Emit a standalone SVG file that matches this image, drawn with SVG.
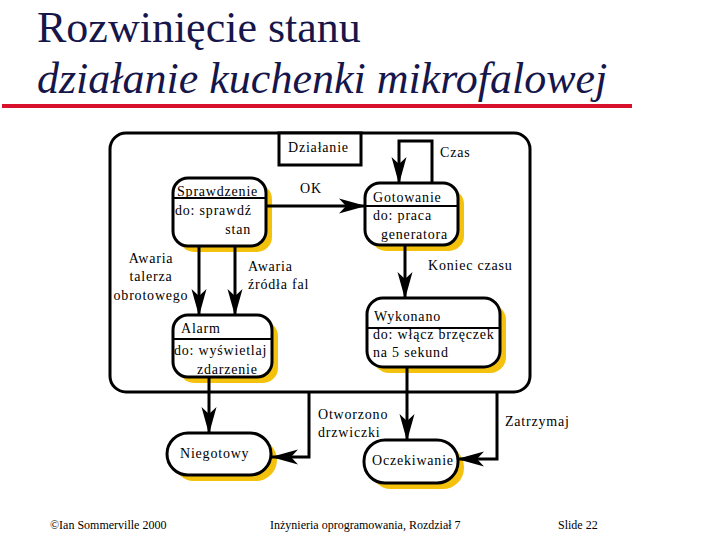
<svg xmlns="http://www.w3.org/2000/svg" width="720" height="540" viewBox="0 0 720 540">
<style>
.t{font-size:14px;fill:#000;letter-spacing:0.8px}
.f{font-size:12px;fill:#000}
.n{fill:#fff;stroke:#000;stroke-width:3}
.sh{fill:#f4c20d}
.c{fill:none;stroke:#000;stroke-width:3}
.d{stroke:#000;stroke-width:2}
</style>
<defs>
<marker id="ah" markerUnits="userSpaceOnUse" viewBox="0 0 28 16" markerWidth="28" markerHeight="16" refX="26" refY="7.5" orient="auto" overflow="visible">
<path d="M0,0 L27,7.5 L0,15 L7,7.5 z" fill="#000"/>
</marker>
</defs>
<rect width="720" height="540" fill="#fff"/>
<text x="37" y="42" font-family="Liberation Serif, serif" font-size="44" fill="#16164a">Rozwinięcie stanu</text>
<text x="37" y="93" font-family="Liberation Serif, serif" font-size="44" font-style="italic" fill="#16164a">działanie kuchenki mikrofalowej</text>
<rect x="2" y="104" width="630" height="4" fill="#d8102c"/>
<g id="Dzialanie">
<rect x="110" y="133" width="420" height="259" rx="16" fill="#fff" stroke="#000" stroke-width="3"/>
<rect x="279" y="133" width="82" height="32" fill="#fff" stroke="#000" stroke-width="3"/>
<text class="t" font-family="Liberation Serif, serif" x="288" y="152">Działanie</text>
</g>
<g id="Sprawdzenie">
<rect class="sh" x="179" y="184" width="93" height="68" rx="15"/>
<rect class="n" x="173" y="178" width="93" height="68" rx="15"/>
<line class="d" x1="173" y1="198" x2="266" y2="198"/>
<text class="t" font-family="Liberation Serif, serif" x="177" y="196">Sprawdzenie</text>
<text class="t" font-family="Liberation Serif, serif" x="175" y="215">do: sprawdź</text>
<text class="t" font-family="Liberation Serif, serif" x="251" y="234" text-anchor="end">stan</text>
</g>
<g id="Gotowanie">
<rect class="sh" x="371" y="189" width="93" height="62" rx="15"/>
<rect class="n" x="365" y="183" width="93" height="62" rx="15"/>
<line class="d" x1="365" y1="206" x2="458" y2="206"/>
<text class="t" font-family="Liberation Serif, serif" x="373" y="202">Gotowanie</text>
<text class="t" font-family="Liberation Serif, serif" x="373" y="220">do: praca</text>
<text class="t" font-family="Liberation Serif, serif" x="381" y="239">generatora</text>
</g>
<g id="Alarm">
<rect class="sh" x="179" y="321" width="99" height="62" rx="15"/>
<rect class="n" x="173" y="315" width="99" height="62" rx="15"/>
<line class="d" x1="173" y1="339" x2="272" y2="339"/>
<text class="t" font-family="Liberation Serif, serif" x="181" y="333">Alarm</text>
<text class="t" font-family="Liberation Serif, serif" x="174" y="355">do: wyświetlaj</text>
<text class="t" font-family="Liberation Serif, serif" x="197" y="374">zdarzenie</text>
</g>
<g id="Wykonano">
<rect class="sh" x="373" y="304" width="133" height="69" rx="16"/>
<rect class="n" x="367" y="298" width="133" height="69" rx="16"/>
<line class="d" x1="367" y1="328" x2="500" y2="328"/>
<text class="t" font-family="Liberation Serif, serif" x="374" y="321">Wykonano</text>
<text class="t" font-family="Liberation Serif, serif" x="373" y="339">do: włącz brzęczek</text>
<text class="t" font-family="Liberation Serif, serif" x="373" y="357">na 5 sekund</text>
</g>
<g id="Niegotowy">
<rect class="sh" x="173" y="439" width="104" height="42" rx="21"/>
<rect class="n" x="167" y="433" width="104" height="42" rx="21"/>
<text class="t" font-family="Liberation Serif, serif" x="180" y="458">Niegotowy</text>
</g>
<g id="Oczekiwanie">
<rect class="sh" x="370" y="446" width="94" height="43" rx="21"/>
<rect class="n" x="364" y="440" width="94" height="43" rx="21"/>
<text class="t" font-family="Liberation Serif, serif" x="372" y="465">Oczekiwanie</text>
</g>
<g id="connectors">
<path class="c" d="M266,206 H365" marker-end="url(#ah)"/>
<path class="c" d="M432,183 V141 H399 V183" marker-end="url(#ah)"/>
<path class="c" d="M199,246 V315" marker-end="url(#ah)"/>
<path class="c" d="M235,246 V315" marker-end="url(#ah)"/>
<path class="c" d="M405,245 V298" marker-end="url(#ah)"/>
<path class="c" d="M209,377 V433" marker-end="url(#ah)"/>
<path class="c" d="M309,392 V457 H272" marker-end="url(#ah)"/>
<path class="c" d="M407,367 V440" marker-end="url(#ah)"/>
<path class="c" d="M497,392 V459 H458" marker-end="url(#ah)"/>
</g>
<text class="t" font-family="Liberation Serif, serif" x="440" y="157">Czas</text>
<text class="t" font-family="Liberation Serif, serif" x="300" y="193">OK</text>
<text class="t" font-family="Liberation Serif, serif" x="151" y="263" text-anchor="middle">Awaria</text>
<text class="t" font-family="Liberation Serif, serif" x="151" y="281" text-anchor="middle">talerza</text>
<text class="t" font-family="Liberation Serif, serif" x="151" y="300" text-anchor="middle">obrotowego</text>
<text class="t" font-family="Liberation Serif, serif" x="248" y="271">Awaria</text>
<text class="t" font-family="Liberation Serif, serif" x="248" y="289">źródła fal</text>
<text class="t" font-family="Liberation Serif, serif" x="428" y="270">Koniec czasu</text>
<text class="t" font-family="Liberation Serif, serif" x="318" y="419">Otworzono</text>
<text class="t" font-family="Liberation Serif, serif" x="318" y="437">drzwiczki</text>
<text class="t" font-family="Liberation Serif, serif" x="505" y="426">Zatrzymaj</text>
<text class="f" font-family="Liberation Serif, serif" x="50" y="529">©Ian Sommerville 2000</text>
<text class="f" font-family="Liberation Serif, serif" x="270" y="529">Inżynieria oprogramowania, Rozdział 7</text>
<text class="f" font-family="Liberation Serif, serif" x="558" y="529">Slide  22</text>
</svg>
